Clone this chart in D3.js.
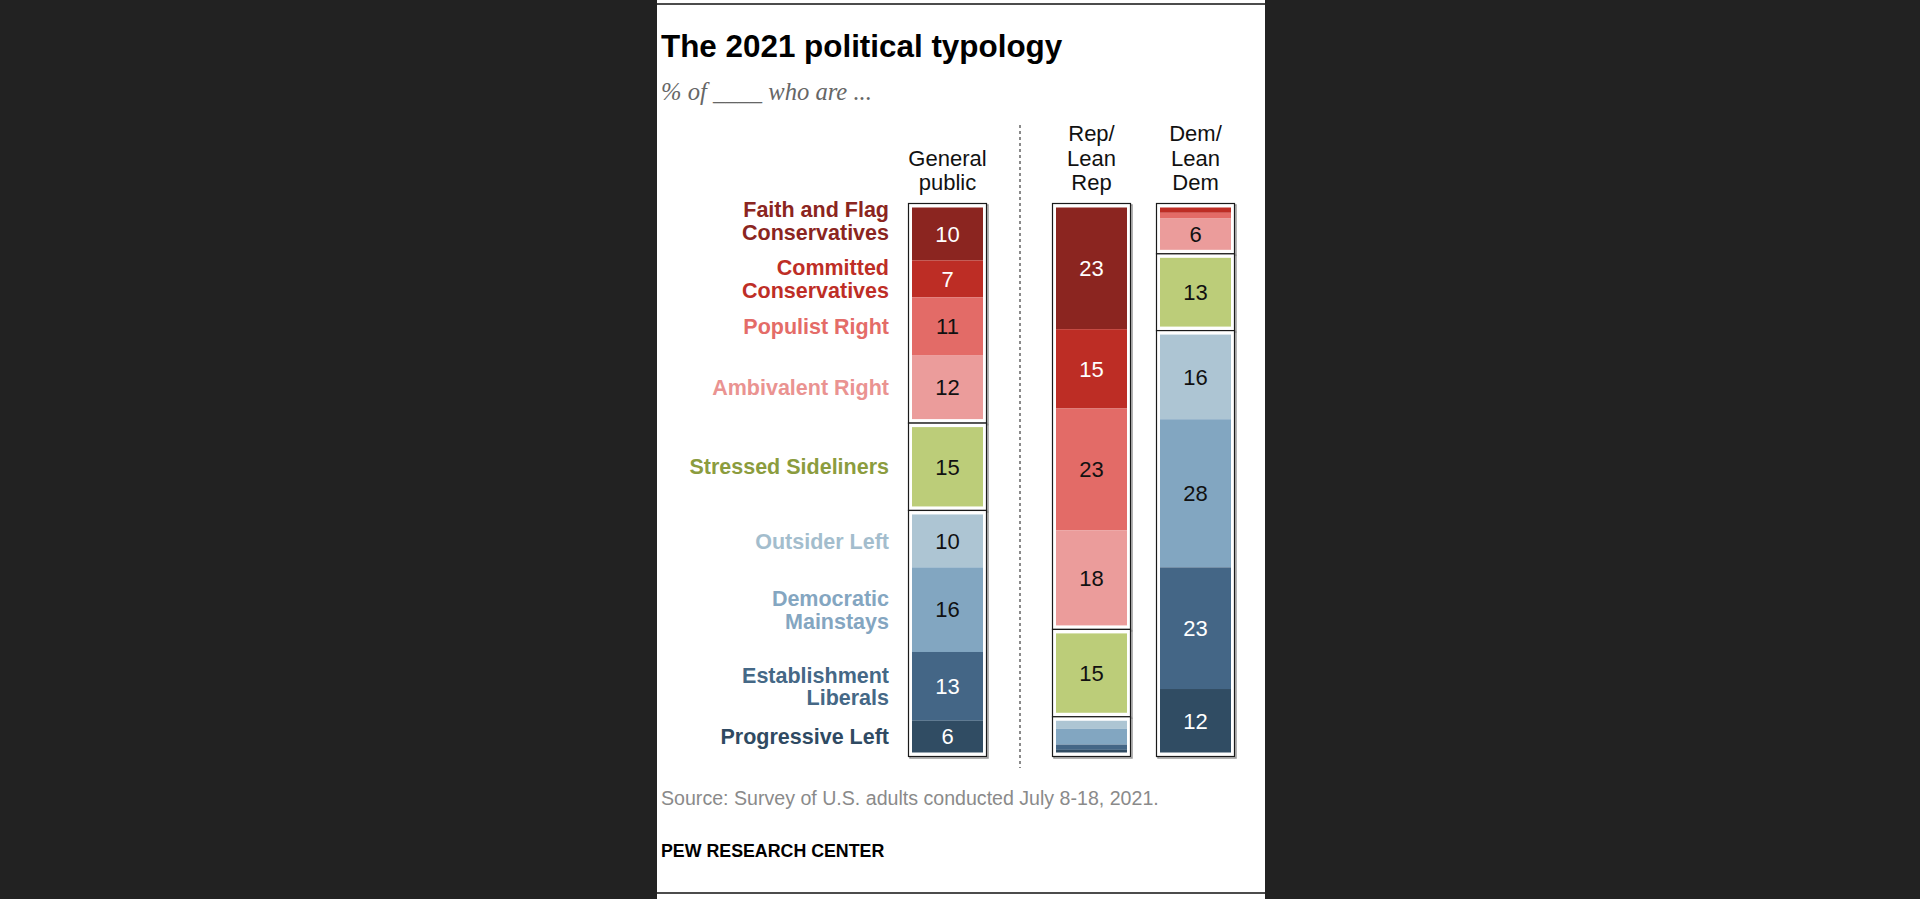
<!DOCTYPE html>
<html>
<head>
<meta charset="utf-8">
<script src="https://cdn.jsdelivr.net/npm/d3@7"></script>
<style>
  html, body { margin: 0; padding: 0; background: #222222; }
  svg { display: block; }
</style>
</head>
<body>
<svg id="chart" width="1920" height="899"></svg>
<script>
// ---------------- DATA ----------------
const categories = [
  "Faith and Flag Conservatives",
  "Committed Conservatives",
  "Populist Right",
  "Ambivalent Right",
  "Stressed Sideliners",
  "Outsider Left",
  "Democratic Mainstays",
  "Establishment Liberals",
  "Progressive Left"
];
const categoryLines = [
  ["Faith and Flag", "Conservatives"],
  ["Committed", "Conservatives"],
  ["Populist Right"],
  ["Ambivalent Right"],
  ["Stressed Sideliners"],
  ["Outsider Left"],
  ["Democratic", "Mainstays"],
  ["Establishment", "Liberals"],
  ["Progressive Left"]
];
const categoryGroup = ["rep", "rep", "rep", "rep", "mid", "dem", "dem", "dem", "dem"];
const columns = ["General public", "Rep/Lean Rep", "Dem/Lean Dem"];
const columnHeaderLines = [["General", "public"], ["Rep/", "Lean", "Rep"], ["Dem/", "Lean", "Dem"]];
const generalPublic = [10, 7, 11, 12, 15, 10, 16, 13, 6];
const repLeanRep   = [23, 15, 23, 18, 15, 1.5, 3, 1, 0.5];
const demLeanDem   = [0, 1, 1, 6, 13, 16, 28, 23, 12];
const seriesValues = [generalPublic, repLeanRep, demLeanDem];

// ---------------- STYLE ----------------
const fillColors  = ["#8b2520", "#bd2d25", "#e36b67", "#eb9c9b", "#bccd79", "#adc5d3", "#82a6c1", "#446686", "#304c63"];
const labelColors = ["#8b2520", "#be2e26", "#e46c68", "#ea9391", "#8b9c3e", "#a3bdcd", "#84a6c1", "#456886", "#2f4a62"];
const numberColors = ["#ffffff", "#ffffff", "#111111", "#111111", "#111111", "#111111", "#111111", "#ffffff", "#ffffff"];

const svg = d3.select("#chart");
const W = 1920, H = 899;
const panelX = 657, panelW = 608;
const sans = "'Liberation Sans', Arial, sans-serif";

svg.append("rect").attr("x", 0).attr("y", 0).attr("width", W).attr("height", H).attr("fill", "#222222");
svg.append("rect").attr("x", panelX).attr("y", 0).attr("width", panelW).attr("height", H).attr("fill", "#ffffff");

// top & bottom rules
svg.append("line").attr("x1", panelX).attr("x2", panelX + panelW).attr("y1", 4).attr("y2", 4)
  .attr("stroke", "#111").attr("stroke-width", 1.5);
svg.append("line").attr("x1", panelX).attr("x2", panelX + panelW).attr("y1", 893).attr("y2", 893)
  .attr("stroke", "#111").attr("stroke-width", 1.5);

// title
svg.append("text").attr("x", 661).attr("y", 57)
  .attr("font-family", sans).attr("font-weight", "bold")
  .attr("font-size", 31.4).attr("fill", "#000").text("The 2021 political typology");
svg.append("text").attr("x", 661).attr("y", 100)
  .attr("font-family", "'Liberation Serif', Georgia, serif").attr("font-style", "italic")
  .attr("font-size", 24.6).attr("fill", "#666").text("% of ____ who are ...");

// ---------------- SCALES ----------------
const fillTop = 207.5, fillBottom = 752.5, groupGap = 8, fillW = 71;
const groupOrder = ["rep", "mid", "dem"];
const nGaps = groupOrder.length - 1;
const y = d3.scaleLinear().domain([0, 100]).range([0, fillBottom - fillTop - nGaps * groupGap]);
const x = d3.scaleOrdinal().domain(columns).range([912, 1056, 1160]);

function segments(values) {
  let cum = 0;
  return values.map((v, i) => {
    const gi = groupOrder.indexOf(categoryGroup[i]);
    const y0 = fillTop + y(cum) + gi * groupGap;
    cum += v;
    const y1 = fillTop + y(cum) + gi * groupGap;
    return { i, v, y0, y1, group: categoryGroup[i] };
  });
}

// divider
svg.append("line").attr("x1", 1020).attr("x2", 1020).attr("y1", 125).attr("y2", 768)
  .attr("stroke", "#8a8a8a").attr("stroke-width", 2).attr("stroke-dasharray", "3,3");

columns.forEach((col, ci) => {
  const segs = segments(seriesValues[ci]);
  const gx = x(col);
  const g = svg.append("g");
  // group boxes (shadow first, then frame)
  groupOrder.forEach(grp => {
    const s = segs.filter(d => d.group === grp);
    const top = d3.min(s, d => d.y0) - 4, bot = d3.max(s, d => d.y1) + 4;
    g.append("rect").attr("x", gx - 3.5 + 1.5).attr("y", top + 1.5)
      .attr("width", fillW + 7).attr("height", bot - top)
      .attr("fill", "none").attr("stroke", "#9a9a9a").attr("stroke-width", 1.5);
  });
  groupOrder.forEach(grp => {
    const s = segs.filter(d => d.group === grp);
    const top = d3.min(s, d => d.y0) - 4, bot = d3.max(s, d => d.y1) + 4;
    g.append("rect").attr("x", gx - 3.5).attr("y", top)
      .attr("width", fillW + 7).attr("height", bot - top)
      .attr("fill", "#fff").attr("stroke", "#1a1a1a").attr("stroke-width", 1.2);
  });
  g.selectAll("rect.seg").data(segs).join("rect").attr("class", "seg")
    .attr("x", gx).attr("y", d => d.y0).attr("width", fillW)
    .attr("height", d => Math.max(0, d.y1 - d.y0)).attr("fill", d => fillColors[d.i]);
  g.selectAll("text.num").data(segs.filter(d => d.v >= 5)).join("text").attr("class", "num")
    .attr("x", gx + fillW / 2).attr("y", d => (d.y0 + d.y1) / 2 + 7.8)
    .attr("text-anchor", "middle").attr("font-family", sans)
    .attr("font-size", 22).attr("fill", d => numberColors[d.i]).text(d => d.v);
  // header
  const lines = columnHeaderLines[ci];
  const lastBase = 190;
  const ht = g.append("text").attr("text-anchor", "middle")
    .attr("font-family", sans).attr("font-size", 22).attr("fill", "#111");
  lines.forEach((ln, li) => {
    ht.append("tspan").attr("x", gx + fillW / 2).attr("y", lastBase - (lines.length - 1 - li) * 24.5).text(ln);
  });

  // category labels, positioned by the General public column
  if (ci === 0) {
    const lh = 22.5, gap = 13;
    const blocks = segs.map(d => {
      const n = categoryLines[d.i].length;
      return { d, n, c: (d.y0 + d.y1) / 2, h: n * lh };
    });
    // resolve overlaps by pushing upper labels up
    for (let k = blocks.length - 2; k >= 0; k--) {
      const a = blocks[k], b = blocks[k + 1];
      const overlap = (a.c + a.h / 2 + gap) - (b.c - b.h / 2);
      if (overlap > 0) a.c -= overlap;
    }
    blocks.forEach(b => {
      const t = svg.append("text").attr("text-anchor", "end")
        .attr("font-family", sans).attr("font-weight", "bold")
        .attr("font-size", 21.5).attr("fill", labelColors[b.d.i]);
      categoryLines[b.d.i].forEach((ln, li) => {
        t.append("tspan").attr("x", 889)
          .attr("y", b.c - (b.n - 1) * lh / 2 + li * lh + 7.7).text(ln);
      });
    });
  }
});

// footer
svg.append("text").attr("x", 661).attr("y", 805)
  .attr("font-family", sans).attr("font-size", 19.6)
  .attr("fill", "#8a8a8a").text("Source: Survey of U.S. adults conducted July 8-18, 2021.");
svg.append("text").attr("x", 661).attr("y", 857)
  .attr("font-family", sans).attr("font-weight", "bold").attr("font-size", 17.8)
  .attr("fill", "#000").text("PEW RESEARCH CENTER");
</script>
</body>
</html>
